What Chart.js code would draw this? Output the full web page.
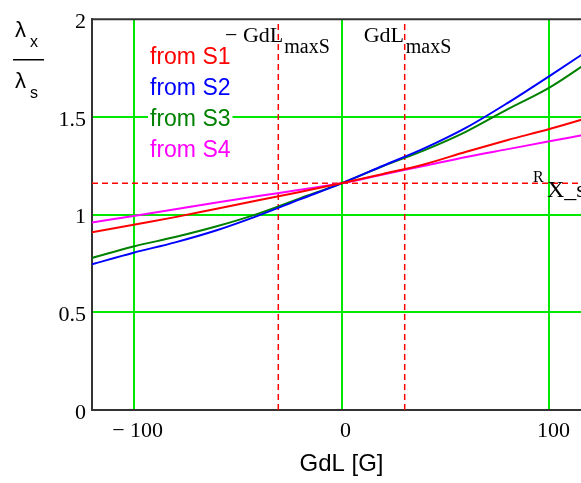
<!DOCTYPE html>
<html>
<head>
<meta charset="utf-8">
<script src="https://cdn.jsdelivr.net/npm/chart.js@4.4.1/dist/chart.umd.min.js"></script>
<style>
  html, body { margin: 0; padding: 0; background: #fff; overflow: hidden; }
  #wrap { width: 581px; height: 483px; overflow: hidden; }
</style>
</head>
<body>
<div id="wrap"><canvas id="chart" width="600" height="483"></canvas></div>
<script>
// --- DATA ---
const gdl = [-120, -100, -80, -60, -40, -20, 0, 20, 40, 60, 80, 100, 120];
const fromS1 = [0.909, 0.948, 0.987, 1.030, 1.073, 1.116, 1.160, 1.208, 1.258, 1.322, 1.382, 1.438, 1.500];
const fromS2 = [0.746, 0.805, 0.858, 0.920, 0.995, 1.078, 1.160, 1.250, 1.340, 1.445, 1.572, 1.709, 1.850];
const fromS3 = [0.778, 0.837, 0.885, 0.940, 1.005, 1.083, 1.160, 1.248, 1.330, 1.425, 1.540, 1.650, 1.790];
const fromS4 = [0.960, 0.993, 1.027, 1.062, 1.095, 1.127, 1.160, 1.205, 1.250, 1.295, 1.335, 1.375, 1.415];
const seriesLabels = ['from S1', 'from S2', 'from S3', 'from S4'];
const seriesColors = ['#ff0000', '#0000ff', '#008000', '#ff00ff'];
const xTicks = [-100, 0, 100];
const yTicks = [0, 0.5, 1, 1.5, 2];
const gdlMaxS = 30.4;   // dashed verticals at +/- GdL_maxS
const rxRatio = 1.16;   // dashed horizontal R_X_s

const GRID_GREEN = '#00e800';
const AXIS_DARK = '#333333';
const SERIF = "'Liberation Serif', 'Times New Roman', serif";
const SANS = "'Liberation Sans', Arial, sans-serif";

const toPoints = (ys) => gdl.map((x, i) => ({ x, y: ys[i] }));

const curveSets = [fromS1, fromS2, fromS3, fromS4].map((ys, i) => ({
    label: seriesLabels[i],
    data: toPoints(ys),
    borderColor: seriesColors[i],
    borderWidth: 2,
    pointRadius: 0,
    cubicInterpolationMode: 'monotone',
    fill: false,
    order: 1
}));

const markerStyle = { borderColor: '#ff0000', borderWidth: 1.5, borderDash: [6, 4], pointRadius: 0, fill: false, order: 2 };
const markerSets = [
    { label: '-GdLmaxS', data: [{ x: -gdlMaxS, y: 0 }, { x: -gdlMaxS, y: 2 }], ...markerStyle },
    { label: 'GdLmaxS', data: [{ x: gdlMaxS, y: 0 }, { x: gdlMaxS, y: 2 }], ...markerStyle },
    { label: 'RX_s', data: [{ x: -120, y: rxRatio }, { x: 120, y: rxRatio }], ...markerStyle }
];

// --- PLUGINS ---
const frameAndText = {
    id: 'frameAndText',
    afterDraw(chart) {
        const { ctx, chartArea: a, scales: { x, y } } = chart;
        ctx.save();
        // top frame line
        ctx.strokeStyle = AXIS_DARK;
        ctx.lineWidth = 2;
        ctx.beginPath();
        ctx.moveTo(a.left - 1, a.top);
        ctx.lineTo(a.right, a.top);
        ctx.stroke();

        // legend, text with white background
        ctx.font = '23px ' + SANS;
        ctx.textBaseline = 'alphabetic';
        seriesLabels.forEach((lab, i) => {
            const bx = 150, by = 64 + i * 31;
            const w = ctx.measureText(lab).width;
            ctx.fillStyle = '#fff';
            ctx.fillRect(bx - 2, by - 19, w + 4, 24);
            ctx.fillStyle = seriesColors[i];
            ctx.fillText(lab, bx, by);
        });

        // GdL_maxS labels
        ctx.fillStyle = '#000';
        const base = a.top + 23;
        const xl = x.getPixelForValue(-gdlMaxS);
        const xr = x.getPixelForValue(gdlMaxS);
        ctx.font = '22px ' + SERIF;
        ctx.textAlign = 'right';
        ctx.fillText('\u2212 GdL', xl + 5, base);
        ctx.textAlign = 'left';
        ctx.fillText('GdL', xr - 41, base);
        ctx.font = '20px ' + SERIF;
        ctx.fillText('maxS', xl + 6, base + 11);
        ctx.fillText('maxS', xr + 1, base + 11);

        // R_X_s label
        const yr = y.getPixelForValue(rxRatio);
        ctx.font = '16px ' + SERIF;
        ctx.fillText('R', 533, yr - 1);
        ctx.font = '24px ' + SERIF;
        ctx.fillText('X_s', 547, yr + 14);

        // y-axis title: lambda_x / lambda_s
        ctx.font = '22px ' + SANS;
        ctx.fillText('\u03bb', 15, 37);
        ctx.fillText('\u03bb', 15, 88);
        ctx.font = '16px ' + SANS;
        ctx.fillText('x', 30, 47);
        ctx.fillText('s', 30, 98);
        ctx.fillRect(13, 59, 31, 1.5);
        ctx.restore();
    }
};

// --- CHART ---
new Chart(document.getElementById('chart'), {
    type: 'line',
    data: { datasets: [...curveSets, ...markerSets] },
    options: {
        responsive: false,
        animation: false,
        layout: { padding: { top: 14, right: 9, left: 0, bottom: 0 } },
        plugins: { legend: { display: false }, tooltip: { enabled: false } },
        scales: {
            x: {
                type: 'linear',
                min: -120,
                max: 120,
                afterBuildTicks: (s) => { s.ticks = xTicks.map(v => ({ value: v })); },
                afterFit: (s) => { s.height = 73; },
                ticks: {
                    color: '#000',
                    font: { family: SERIF, size: 22 },
                    padding: 8,
                    labelOffset: 4,
                    maxRotation: 0,
                    callback: (v) => v < 0 ? '\u2212 ' + Math.abs(v) : String(v)
                },
                grid: {
                    color: (c) => (c.tick && xTicks.includes(c.tick.value)) ? GRID_GREEN : 'transparent',
                    lineWidth: 2,
                    drawTicks: false
                },
                border: { display: true, color: AXIS_DARK, width: 2 },
                title: { display: true, text: 'GdL [G]', color: '#000', font: { family: SANS, size: 24 }, padding: { top: 0, bottom: 4 } }
            },
            y: {
                type: 'linear',
                min: 0,
                max: 2,
                afterBuildTicks: (s) => { s.ticks = yTicks.map(v => ({ value: v })); },
                afterFit: (s) => { s.width = 92; },
                ticks: {
                    color: '#000',
                    font: { family: SERIF, size: 22 },
                    padding: 6,
                    labelOffset: 3,
                    callback: (v) => String(v)
                },
                grid: {
                    color: (c) => (c.tick && c.tick.value > 0 && c.tick.value < 2) ? GRID_GREEN : 'transparent',
                    lineWidth: 2,
                    drawTicks: false
                },
                border: { display: true, color: AXIS_DARK, width: 2 }
            }
        }
    },
    plugins: [frameAndText]
});
</script>
</body>
</html>
